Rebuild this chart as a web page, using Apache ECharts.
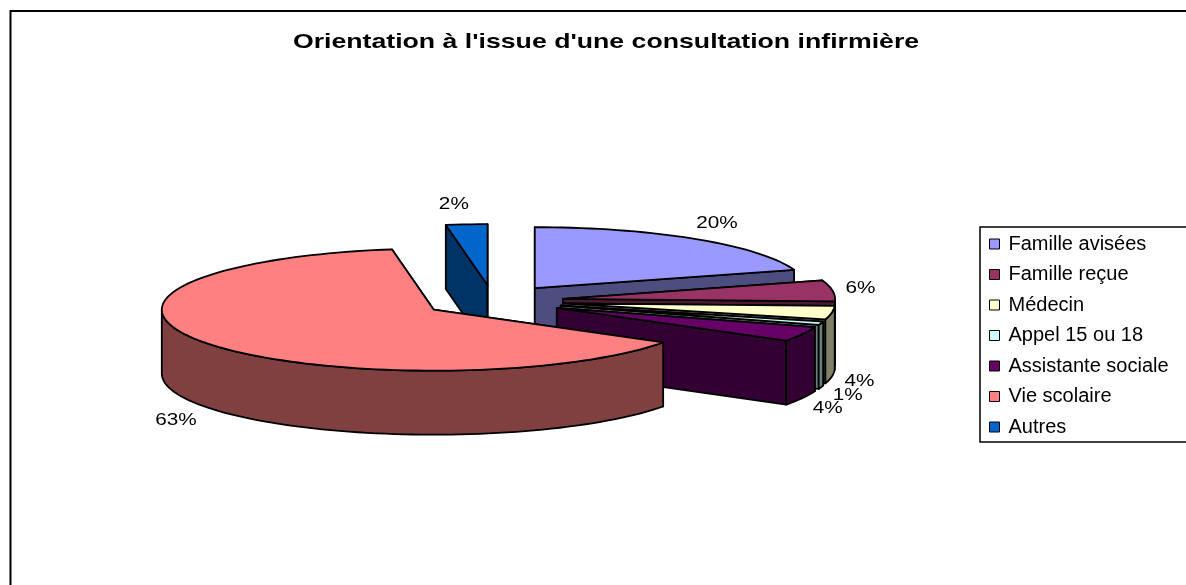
<!DOCTYPE html>
<html>
<head>
<meta charset="utf-8">
<title>Orientation à l'issue d'une consultation infirmière</title>
<style>
  html, body { margin: 0; padding: 0; background: #fff; overflow: hidden; }
  #chart { width: 1186px; height: 585px; }
</style>
<script src="https://cdn.jsdelivr.net/npm/echarts@6/dist/echarts.min.js"></script>
</head>
<body>
<div id="chart"></div>
<script>
const chartTitle = "Orientation à l'issue d'une consultation infirmière"
const categories = ['Famille avisées', 'Famille reçue', 'Médecin', 'Appel 15 ou 18', 'Assistante sociale', 'Vie scolaire', 'Autres']
const shares = [20.1, 5.5, 3.6, 0.9, 3.9, 63.45, 2.45]
const topColors = ['#9999FF', '#993366', '#FFFFCC', '#CCFFFF', '#660066', '#FF8080', '#0066CC']
const sideColors = ['#4D4D80', '#4D1A33', '#808066', '#668080', '#330033', '#804040', '#003366']
// back to front, excel paints the slices in this order
const paintOrder = [6, 0, 1, 2, 3, 4, 5]

// pie geometry
const cx = 493
const cy = 301
const rx = 272
const ry = 61
const depth = 64
const explode = 0.26
const font = '17px "Liberation Sans", Arial, sans-serif'

const total = shares.reduce((a, b) => a + b, 0)

function toRad(deg) {
  return deg * Math.PI / 180
}

function arcPoints(ox, oy, from, to) {
  const pts = []
  const n = Math.max(2, Math.ceil((to - from) / 2))
  for (let i = 0; i <= n; i++) {
    const a = toRad(from + (to - from) * i / n)
    pts.push([ox + rx * Math.sin(a), oy - ry * Math.cos(a)])
  }
  return pts
}

function down(pts) {
  return pts.map((p) => [p[0], p[1] + depth]).reverse()
}

function face(points, fill, z2) {
  return {
    type: 'polygon',
    z2: z2,
    shape: { points: points },
    style: { fill: fill, stroke: '#000', lineWidth: 1.8, lineJoin: 'round' }
  }
}

function renderSlice(params, api) {
  const i = params.seriesIndex
  const start = shares.slice(0, i).reduce((a, b) => a + b, 0) / total * 360
  const end = start + api.value(0) / total * 360
  const mid = toRad((start + end) / 2)
  const sin = Math.sin(mid)
  const cos = Math.cos(mid)
  const ox = cx + explode * rx * sin
  const oy = cy - explode * ry * cos
  const arc = arcPoints(ox, oy, start, end)
  const apex = [ox, oy]
  const children = []

  // the two radial walls, then the outer wall where it faces us, then the top
  const first = arc[0]
  const last = arc[arc.length - 1]
  children.push(face([apex, first].concat(down([apex, first])), sideColors[i], 1))
  children.push(face([apex, last].concat(down([apex, last])), sideColors[i], 1))
  const wallFrom = Math.max(start, 90)
  const wallTo = Math.min(end, 270)
  if (wallTo > wallFrom) {
    const wall = arcPoints(ox, oy, wallFrom, wallTo)
    children.push(face(wall.concat(down(wall)), sideColors[i], 2))
  }
  children.push(face([apex].concat(arc), topColors[i], 3))

  // percent label just outside the edge of the slice
  const side = cos < 0 ? depth + 2 : 0
  const nudge = Math.abs(sin) < 0.7 ? (sin < 0 ? -10 : 5) : 0
  children.push({
    type: 'text',
    z2: 4,
    x: ox + rx * sin + (sin < 0 ? 36 : 28) * sin + nudge,
    y: oy - ry * cos + side - 20 * cos,
    scaleX: 1.22,
    style: {
      text: Math.round(api.value(0)) + '%',
      font: font,
      fill: '#000',
      align: 'center',
      verticalAlign: 'middle'
    }
  })
  return { type: 'group', children: children }
}

const chart = echarts.init(document.getElementById('chart'), null, { renderer: 'canvas' })
chart.setOption({
  animation: false,
  backgroundColor: '#fff',
  legend: {
    orient: 'vertical',
    left: 980,
    top: 227,
    padding: [7, 30, 5, 9],
    data: categories,
    icon: 'rect',
    itemWidth: 10,
    itemHeight: 10,
    itemGap: 10.5,
    selectedMode: false,
    borderColor: '#000',
    borderWidth: 1.5,
    itemStyle: { borderColor: '#000', borderWidth: 1 },
    textStyle: { fontFamily: '"Liberation Sans", Arial, sans-serif', fontSize: 20, color: '#000', padding: [0, 0, 0, 4] }
  },
  graphic: [{
    type: 'rect',
    silent: true,
    z: -1,
    shape: { x: 10.5, y: 11, width: 1300, height: 700 },
    style: { fill: '#fff', stroke: '#000', lineWidth: 2 }
  }, {
    // excel stretched the title, the title component can not do that
    type: 'text',
    silent: true,
    x: 606,
    y: 42,
    scaleX: 1.27,
    style: {
      text: chartTitle,
      font: 'bold 21px "Liberation Sans", Arial, sans-serif',
      fill: '#000',
      align: 'center',
      verticalAlign: 'middle'
    }
  }],
  series: categories.map((name, i) => ({
    type: 'custom',
    name: name,
    coordinateSystem: 'none',
    z: 2 + paintOrder.indexOf(i),
    silent: true,
    itemStyle: { color: topColors[i] },
    data: [shares[i]],
    renderItem: renderSlice
  }))
})
window.addEventListener('resize', () => {
  chart.resize()
})
</script>
</body>
</html>
